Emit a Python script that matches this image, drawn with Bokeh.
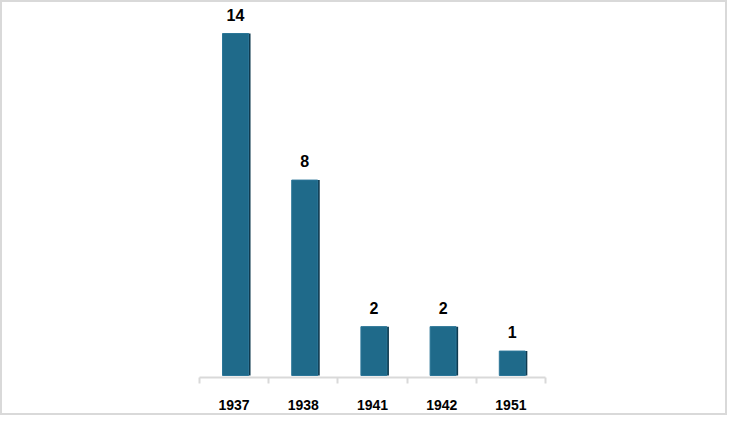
from bokeh.plotting import figure
from bokeh.models import ColumnDataSource, FixedTicker, Range1d
from bokeh.core.properties import value
from bokeh.embed import file_html
from bokeh.resources import INLINE

years = ["1937", "1938", "1941", "1942", "1951"]
counts = [14, 8, 2, 2, 1]

xs = [i + 0.5 for i in range(len(years))]
src = ColumnDataSource(dict(
    x=xs,
    xf=[x + 0.02 for x in xs],
    xs=[x + 0.05 for x in xs],
    y=counts,
    lab=[str(c) for c in counts],
))

p = figure(width=727, height=415, output_backend="svg", toolbar_location=None,
           x_range=Range1d(0, len(years)), y_range=Range1d(-0.082, 15.27),
           min_border_left=197, min_border_right=184, min_border_top=0,
           min_border_bottom=40)
p.styles = {"border": "2px solid #d9d9d9"}
p.outline_line_color = None
p.xgrid.visible = False
p.ygrid.visible = False
p.yaxis.visible = False

# dark side and face of the bars
p.vbar(x="xs", top="y", bottom=0, width=0.375, source=src,
       fill_color="#0f3a4f", line_color=None)
p.vbar(x="xf", top="y", bottom=0, width=0.375, source=src,
       fill_color="#1f6a8a", line_color="#2b7698", line_width=1)

p.text(x="xf", y="y", text="lab", source=src, text_align="center",
       text_baseline="bottom", y_offset=-13,
       text_font=value("Liberation Sans"), text_font_style="bold",
       text_font_size="16px", text_color="#000000")

ax = p.xaxis[0]
ax.ticker = FixedTicker(ticks=xs, minor_ticks=list(range(len(years) + 1)))
ax.major_label_overrides = {x: y for x, y in zip(xs, years)}
ax.major_tick_line_color = None
ax.major_tick_out = 0
ax.major_tick_in = 0
ax.minor_tick_out = 6
ax.minor_tick_in = 0
ax.minor_tick_line_color = "#d9d9d9"
ax.minor_tick_line_width = 2
ax.axis_line_color = "#d9d9d9"
ax.axis_line_width = 2
ax.major_label_standoff = 16
ax.major_label_text_font = "Liberation Sans"
ax.major_label_text_font_style = "bold"
ax.major_label_text_font_size = "14px"
ax.major_label_text_color = "#000000"

open("out.html", "w").write(file_html(p, INLINE))
